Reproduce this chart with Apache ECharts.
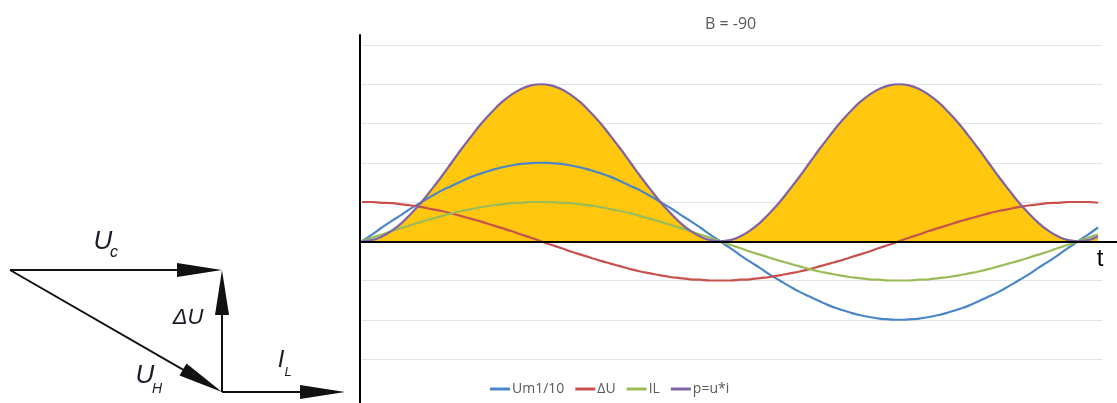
<!DOCTYPE html>
<html>
<head>
<meta charset="utf-8">
<script src="https://cdn.jsdelivr.net/npm/echarts@6/dist/echarts.min.js"></script>
<style>
  html, body { margin: 0; padding: 0; background: #fff; }
  #chart { width: 1117px; height: 403px; }
</style>
</head>
<body>
<div id="chart"></div>
<script>
  // phase angle, degrees
  const angles = [0, 5, 10, 15, 20, 25, 30, 35, 40, 45, 50, 55, 60, 65, 70, 75, 80, 85, 90,
    95, 100, 105, 110, 115, 120, 125, 130, 135, 140, 145, 150, 155, 160, 165, 170, 175, 180,
    185, 190, 195, 200, 205, 210, 215, 220, 225, 230, 235, 240, 245, 250, 255, 260, 265, 270,
    275, 280, 285, 290, 295, 300, 305, 310, 315, 320, 325, 330, 335, 340, 345, 350, 355, 360,
    365, 370];
  const um = [0, 0.17, 0.35, 0.52, 0.68, 0.85, 1, 1.15, 1.29, 1.41, 1.53, 1.64, 1.73, 1.81, 1.88, 1.93, 1.97, 1.99, 2,
    1.99, 1.97, 1.93, 1.88, 1.81, 1.73, 1.64, 1.53, 1.41, 1.29, 1.15, 1, 0.85, 0.68, 0.52, 0.35, 0.17, 0,
    -0.17, -0.35, -0.52, -0.68, -0.85, -1, -1.15, -1.29, -1.41, -1.53, -1.64, -1.73, -1.81, -1.88, -1.93, -1.97, -1.99, -2,
    -1.99, -1.97, -1.93, -1.88, -1.81, -1.73, -1.64, -1.53, -1.41, -1.29, -1.15, -1, -0.85, -0.68, -0.52, -0.35, -0.17, 0,
    0.17, 0.35];
  const du = [1, 1, 0.98, 0.97, 0.94, 0.91, 0.87, 0.82, 0.77, 0.71, 0.64, 0.57, 0.5, 0.42, 0.34, 0.26, 0.17, 0.09, 0,
    -0.09, -0.17, -0.26, -0.34, -0.42, -0.5, -0.57, -0.64, -0.71, -0.77, -0.82, -0.87, -0.91, -0.94, -0.97, -0.98, -1, -1,
    -1, -0.98, -0.97, -0.94, -0.91, -0.87, -0.82, -0.77, -0.71, -0.64, -0.57, -0.5, -0.42, -0.34, -0.26, -0.17, -0.09, 0,
    0.09, 0.17, 0.26, 0.34, 0.42, 0.5, 0.57, 0.64, 0.71, 0.77, 0.82, 0.87, 0.91, 0.94, 0.97, 0.98, 1, 1,
    1, 0.98];
  const il = [0, 0.09, 0.17, 0.26, 0.34, 0.42, 0.5, 0.57, 0.64, 0.71, 0.77, 0.82, 0.87, 0.91, 0.94, 0.97, 0.98, 1, 1,
    1, 0.98, 0.97, 0.94, 0.91, 0.87, 0.82, 0.77, 0.71, 0.64, 0.57, 0.5, 0.42, 0.34, 0.26, 0.17, 0.09, 0,
    -0.09, -0.17, -0.26, -0.34, -0.42, -0.5, -0.57, -0.64, -0.71, -0.77, -0.82, -0.87, -0.91, -0.94, -0.97, -0.98, -1, -1,
    -1, -0.98, -0.97, -0.94, -0.91, -0.87, -0.82, -0.77, -0.71, -0.64, -0.57, -0.5, -0.42, -0.34, -0.26, -0.17, -0.09, 0,
    0.09, 0.17];
  const pw = [0, 0.03, 0.12, 0.27, 0.47, 0.72, 1, 1.32, 1.65, 2, 2.35, 2.68, 3, 3.28, 3.53, 3.73, 3.88, 3.97, 4,
    3.97, 3.88, 3.73, 3.53, 3.28, 3, 2.68, 2.35, 2, 1.65, 1.32, 1, 0.72, 0.47, 0.27, 0.12, 0.03, 0,
    0.03, 0.12, 0.27, 0.47, 0.72, 1, 1.32, 1.65, 2, 2.35, 2.68, 3, 3.28, 3.53, 3.73, 3.88, 3.97, 4,
    3.97, 3.88, 3.73, 3.53, 3.28, 3, 2.68, 2.35, 2, 1.65, 1.32, 1, 0.72, 0.47, 0.27, 0.12, 0.03, 0,
    0.03, 0.12];

  const seriesNames = ['Um1/10', 'ΔU', 'IL', 'p=u*i'];
  const colors = ['#4A86C8', '#C8504D', '#9BBB59', '#8064A2'];

  // phasor diagram (start -> end of each vector)
  const phasorStart = [[-212, 122], [0, 0], [-212, 122], [0, 0]];
  const phasorEnd = [[0, 122], [0, 122], [0, 0], [123, 0]];

  function pairs(vals) {
    return angles.map((a, i) => [a, vals[i]]);
  }

  const chart = echarts.init(document.getElementById('chart'));

  const hideAxis = {
    axisLine: { show: false },
    axisTick: { show: false },
    axisLabel: { show: false },
    splitLine: { show: false }
  };

  const lineSeries = (name, vals, color, z) => ({
    name: name,
    type: 'line',
    xAxisIndex: 0,
    yAxisIndex: 0,
    data: pairs(vals),
    smooth: true,
    symbol: 'none',
    z: z,
    itemStyle: { color: color },
    lineStyle: { color: color, width: 2.2 }
  });

  const fontLbl = "'Liberation Sans Narrow', 'Liberation Sans', sans-serif";
  const lbl = (text, x, y, size) => ({
    type: 'text', x: x, y: y, z: 10,
    style: {
      text: text, fill: '#1b1b2a',
      font: 'italic ' + size + 'px ' + fontLbl,
      align: 'center', verticalAlign: 'middle'
    }
  });

  chart.setOption({
    backgroundColor: '#fff',
    animation: false,
    title: {
      text: 'B = -90',
      left: 700,
      top: 11,
      textStyle: { fontSize: 16, fontWeight: 'normal', color: '#595959', fontFamily: 'Open Sans' }
    },
    legend: {
      data: seriesNames,
      left: 485,
      top: 377,
      icon: 'rect',
      itemWidth: 20,
      itemHeight: 3,
      itemGap: 11,
      textStyle: { fontSize: 14, color: '#595959', fontFamily: 'Open Sans', padding: [0, 0, 0, -3] }
    },
    grid: [
      { left: 362, top: 45, width: 740, height: 314 },
      { left: 360, top: 35, right: 0, bottom: 0 },
      { left: 0, top: 220, width: 360, height: 183 }
    ],
    xAxis: [
      Object.assign({ type: 'value', gridIndex: 0, min: 0, max: 372 }, hideAxis),
      {
        type: 'value', gridIndex: 1, min: 0, max: 1, z: 5,
        axisLine: { show: true, onZero: true, lineStyle: { color: '#000', width: 2 } },
        axisTick: { show: false }, axisLabel: { show: false }, splitLine: { show: false }
      },
      Object.assign({ type: 'value', gridIndex: 2, min: -222, max: 138 }, hideAxis)
    ],
    yAxis: [
      {
        type: 'value', gridIndex: 0, min: -3, max: 5, interval: 1,
        axisLine: { show: false }, axisTick: { show: false }, axisLabel: { show: false },
        splitLine: { show: true, lineStyle: { color: '#E4E4E4', width: 1 } }
      },
      {
        type: 'value', gridIndex: 1, min: -4.12, max: 5.255, z: 5,
        axisLine: { show: true, lineStyle: { color: '#000', width: 2 } },
        axisTick: { show: false }, axisLabel: { show: false }, splitLine: { show: false }
      },
      Object.assign({ type: 'value', gridIndex: 2, min: -11, max: 172 }, hideAxis)
    ],
    graphic: [
      lbl('U', 103, 242, 26), lbl('c', 114, 253, 16),
      lbl('ΔU', 188, 318, 22),
      lbl('U', 145, 376, 26), lbl('H', 157, 389, 14),
      lbl('I', 281, 360, 24), lbl('L', 288, 372, 13),
      {
        type: 'text', x: 1100, y: 259, z: 10,
        style: { text: 't', fill: '#000', font: '24px Liberation Sans', align: 'center', verticalAlign: 'middle' }
      }
    ],
    series: [
      {
        name: 'p fill',
        type: 'line',
        xAxisIndex: 0,
        yAxisIndex: 0,
        data: pairs(pw),
        smooth: true,
        symbol: 'none',
        z: 1,
        lineStyle: { width: 0 },
        areaStyle: { color: '#FFC70D', opacity: 1 }
      },
      lineSeries(seriesNames[0], um, colors[0], 3),
      lineSeries(seriesNames[1], du, colors[1], 3),
      lineSeries(seriesNames[2], il, colors[2], 3),
      lineSeries(seriesNames[3], pw, colors[3], 4),
      {
        type: 'custom',
        xAxisIndex: 2,
        yAxisIndex: 2,
        clip: false,
        encode: { x: [0, 2], y: [1, 3] },
        data: phasorStart.map((s, i) => [s[0], s[1], phasorEnd[i][0], phasorEnd[i][1]]),
        renderItem: function (params, api) {
          const p1 = api.coord([api.value(0), api.value(1)]);
          const p2 = api.coord([api.value(2), api.value(3)]);
          const dx = p2[0] - p1[0], dy = p2[1] - p1[1];
          const len = Math.sqrt(dx * dx + dy * dy);
          const ux = dx / len, uy = dy / len;
          const hl = 45, hw = 7;
          const bx = p2[0] - ux * hl, by = p2[1] - uy * hl;
          return {
            type: 'group',
            children: [
              {
                type: 'line',
                shape: { x1: p1[0], y1: p1[1], x2: p2[0] - ux * 10, y2: p2[1] - uy * 10 },
                style: { stroke: '#111', lineWidth: 2 }
              },
              {
                type: 'polygon',
                shape: { points: [p2, [bx - uy * hw, by + ux * hw], [bx + uy * hw, by - ux * hw]] },
                style: { fill: '#111' }
              }
            ]
          };
        }
      }
    ]
  });
</script>
</body>
</html>
